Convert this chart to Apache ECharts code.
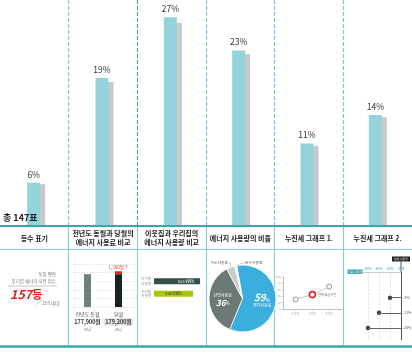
<!DOCTYPE html>
<html><head><meta charset="utf-8">
<script src="https://cdn.jsdelivr.net/npm/echarts@6/dist/echarts.min.js"></script>
<style>html,body{margin:0;padding:0;background:#fff}#c{width:412px;height:354px}</style>
</head><body><div id="c"></div>
<script>
// ---- data ----
const sectionNames = ['등수 표기','전년도 동월과 당월의\n에너지 사용료 비교','이웃집과 우리집의\n에너지 사용량 비교','에너지 사용량의 비율','누진세 그래프 1.','누진세 그래프 2.'];
const shareValues  = [5.5, 19.1, 27.0, 22.7, 10.6, 14.3];
const shadowValues = [5.3, 18.6, 26.3, 22.2, 10.3, 14.0];
const totalVotes = 147;

const rankValue = 157;
const householdCount = 295;
const rankTitle = ['동일 평형', '우리집 에너지 사용 점수'];

const compareLabels = ['전년도 동월', '당월'];
const compareCost   = [177900, 179200];
const compareUsage  = ['28㎥', '28㎥'];

const neighborLabels = ['이웃집\n사용량', '우리집\n사용량'];
const neighborUsage  = [523, 480];

const pieNames  = ['전기사용료', '난방사용료', '수도사용료', '온수사용료'];
const pieValues = [59, 36, 4, 1];

const tierNames  = ['1구간', '2구간', '3구간'];
const tierValues = [30, 45, 70];
const tierCurrent = 1;

const stepTicks   = [-30, -20, -10, 0];
const stepDots    = [-10, -20, -30];
const stepSavings = ['-3%', '-11%', '-25%'];

// ---- styles ----
const FONT = '"Noto Sans CJK KR", "Noto Sans", sans-serif';
const TEAL_BAR = '#93d3d9', SHADOW = '#c5caca', TEAL_LINE = '#33a9b3';
const pieColors = ['#3aaedc', '#6b7876', '#c6cbcb', '#eef1f1'];
const fmt = n => n.toLocaleString('en-US');

const chart = echarts.init(document.getElementById('c'), null, {renderer: 'canvas'});

const pieData = pieNames.map((n, i) => {
  let label;
  if (i === 0) label = {show: true, position: 'inside', formatter: '{p|{c}}{s|%}\n{n|{b}}',
    rich: {p: {fontSize: 10, fontStyle: 'italic', fontWeight: 'bold', color: '#fff', fontFamily: FONT},
           s: {fontSize: 5, color: '#fff', fontFamily: FONT, verticalAlign: 'bottom'},
           n: {fontSize: 4, color: '#fff', fontFamily: FONT, lineHeight: 6}}};
  else if (i === 1) label = {show: true, position: 'inside', formatter: '{n|{b}}\n{p|{c}}{s|%}',
    rich: {p: {fontSize: 8.5, fontStyle: 'italic', fontWeight: 'bold', color: '#fff', fontFamily: FONT},
           s: {fontSize: 4.5, color: '#fff', fontFamily: FONT},
           n: {fontSize: 4, color: '#fff', fontFamily: FONT, lineHeight: 7}}};
  else label = {show: true, position: 'outside', formatter: '{b}', fontSize: 3.8, color: '#555', fontFamily: FONT};
  return {name: n, value: pieValues[i], itemStyle: {color: pieColors[i]}, label,
          labelLine: {show: i >= 2, length: 3, length2: 3, lineStyle: {width: 0.5, color: '#999'}}};
});

const option = {
  animation: false,
  textStyle: {fontFamily: FONT},
  grid: [
    {left: 2, top: 0, width: 412, height: 225},             // 0 main bars
    {left: 0, top: 0, width: 412, height: 225},             // 1 dashed frame
    {left: 0, top: 226, width: 412, height: 120},           // 2 table
    {left: 72, top: 264, width: 62, height: 43},            // 3 cost compare
    {left: 154, top: 275, width: 58.6, height: 25},         // 4 neighbor
    {left: 283, top: 277, width: 58.8, height: 32},         // 5 tier line
    {left: 357, top: 272, width: 44, height: 68}            // 6 step dots
  ],
  xAxis: [
    {gridIndex: 0, type: 'category', data: sectionNames, show: false},
    {gridIndex: 1, type: 'category', data: sectionNames, axisLine: {show: false, onZero: false}, axisTick: {show: false}, axisLabel: {show: false, interval: 0},
     splitLine: {show: true, interval: 0, showMinLine: false, showMaxLine: false,
       lineStyle: {type: [4, 2], width: 1.2, color: ['#72cad1', '#3da6a8', '#72cad1', '#72cad1', '#72cad1']}}},
    {gridIndex: 2, type: 'category', data: sectionNames, position: 'top',
     axisLine: {show: true, onZero: false, lineStyle: {color: TEAL_LINE, width: 2}}, axisTick: {show: false},
     axisLabel: {interval: 0, inside: true, margin: 12, verticalAlign: 'middle', fontSize: 7, fontWeight: 'bold', color: '#222', lineHeight: 9.5, fontFamily: FONT},
     splitLine: {show: true, interval: 0, showMinLine: false, showMaxLine: false, lineStyle: {color: '#86cfd5', width: 1.2}}},
    {gridIndex: 2, type: 'category', data: sectionNames, position: 'bottom',
     axisLine: {show: true, onZero: false, lineStyle: {color: TEAL_LINE, width: 2.5}}, axisTick: {show: false}, axisLabel: {show: false}},
    {gridIndex: 3, type: 'category', data: compareLabels, axisLine: {show: false, onZero: false}, axisTick: {show: false},
     axisLabel: {interval: 0, margin: 3, fontFamily: FONT,
       formatter: (v, i) => `{n|${v}}\n{c${i}|${fmt(compareCost[i])}원}\n{u|${compareUsage[i]}}`,
       rich: {n: {fontSize: 5, color: '#444', lineHeight: 8, fontFamily: FONT},
              c0: {fontSize: 5.5, color: '#333', fontWeight: 'bold', lineHeight: 8, fontFamily: FONT, padding: [1, 2]},
              c1: {fontSize: 5.5, color: '#333', fontWeight: 'bold', lineHeight: 8, fontFamily: FONT, backgroundColor: '#e4e7e7', borderRadius: 3, padding: [1, 2]},
              u: {fontSize: 3.5, color: '#666', lineHeight: 7, fontFamily: FONT}}}},
    {gridIndex: 4, type: 'value', min: 240, max: 600, show: false},
    {gridIndex: 5, type: 'value', min: 0.25, max: 3.75,
     axisLine: {show: true, onZero: false, lineStyle: {color: '#999', width: 0.6}}, axisTick: {show: true, customValues: [1, 2, 3, 3.6], length: 1.5, lineStyle: {color: '#999', width: 0.5}},
     splitLine: {show: false},
     axisLabel: {customValues: [1, 2, 3], fontSize: 3, color: '#999', margin: 3, formatter: v => tierNames[Math.round(v) - 1] || ''}},
    {gridIndex: 6, type: 'value', min: -40, max: 0, interval: 10, position: 'top',
     axisLine: {show: true, onZero: false, lineStyle: {color: '#aaa', width: 0.6}}, axisTick: {show: false},
     axisLabel: {fontSize: 3.5, color: '#2fa8b3', margin: 1.5, fontFamily: FONT,
       formatter: v => v === 0 ? '현재' : (stepTicks.indexOf(v) >= 0 ? Math.abs(v) + '%' : '')},
     splitLine: {show: true, showMinLine: false, showMaxLine: false, lineStyle: {type: [2, 1.5], color: '#cfcfcf', width: 0.6}}}
  ],
  yAxis: [
    {gridIndex: 0, type: 'value', min: 0, max: 29.25, show: false},
    {gridIndex: 1, type: 'value', min: 0, max: 1, show: false},
    {gridIndex: 2, type: 'value', min: 0, max: 1, show: false},
    {gridIndex: 3, type: 'value', min: 163400, max: 182400, interval: 3800,
     axisLine: {show: false}, axisTick: {show: false}, axisLabel: {show: false},
     splitLine: {show: true, lineStyle: {type: [1.5, 1.5], color: '#d3d3d3', width: 0.7}}},
    {gridIndex: 4, type: 'category', data: neighborLabels, inverse: true, axisLine: {show: false}, axisTick: {show: false},
     axisLabel: {interval: 0, fontSize: 3.5, color: '#888', lineHeight: 4.5, margin: 3, fontFamily: FONT}},
    {gridIndex: 5, type: 'value', min: 0, max: 100, interval: 20,
     axisLine: {show: true, onZero: false, lineStyle: {color: '#999', width: 0.6}}, axisTick: {show: true, length: 1.5, lineStyle: {color: '#999', width: 0.5}},
     axisLabel: {fontSize: 2.8, color: '#aaa', margin: 2.5}, splitLine: {show: false}},
    {gridIndex: 6, type: 'value', min: -0.7, max: 3.8, inverse: true, show: false}
  ],
  series: [
    {type: 'bar', xAxisIndex: 0, yAxisIndex: 0, data: shareValues, barWidth: 13, barGap: '-61.5%', z: 3,
     itemStyle: {color: TEAL_BAR},
     label: {show: true, position: 'top', distance: 4, fontSize: 8.5, color: '#333', fontFamily: FONT,
             formatter: p => Math.round(p.value) + '%'}},
    {type: 'bar', xAxisIndex: 0, yAxisIndex: 0, data: shadowValues, barWidth: 13, barGap: '-61.5%', z: 2,
     itemStyle: {color: SHADOW}},

    {type: 'bar', xAxisIndex: 4, yAxisIndex: 3, stack: 'cost', barWidth: 7,
     data: compareCost.map((v, i) => ({value: i === 0 ? v : compareCost[0], itemStyle: {color: i === 0 ? '#6e807c' : '#16231f'}}))},
    {type: 'bar', xAxisIndex: 4, yAxisIndex: 3, stack: 'cost', barWidth: 7,
     data: compareCost.map((v, i) => i === 0 ? '-' : v - compareCost[0]),
     itemStyle: {color: '#e8281e'},
     label: {show: true, position: 'top', distance: 1.5, fontSize: 4.5, color: '#e8401e', fontFamily: FONT,
             formatter: p => fmt(p.value) + '원↑'}},

    {type: 'bar', xAxisIndex: 5, yAxisIndex: 4, barWidth: 6,
     data: neighborUsage.map((v, i) => ({value: v, itemStyle: {color: i === 0 ? '#36504c' : '#a6c80a'},
       label: {show: true, position: i === 0 ? 'insideRight' : 'inside', distance: 6, fontSize: 4.2,
               color: i === 0 ? '#fff' : '#333', fontFamily: FONT, formatter: '{c} kWh'}}))},

    {type: 'pie', center: [242.5, 298.5], radius: 33.5, startAngle: 100, data: pieData,
     itemStyle: {borderColor: '#fff', borderWidth: 0.8},
     labelLayout: p => p.dataIndex === 3 ? {x: 245, y: 263, align: 'left', verticalAlign: 'middle'}
                     : (p.dataIndex === 2 ? {x: 228, y: 263, align: 'right', verticalAlign: 'middle'} : {})},

    {type: 'line', xAxisIndex: 6, yAxisIndex: 5,
     data: tierValues.map((v, i) => ({value: [i + 1, v],
       symbolSize: i === tierCurrent ? 6 : 5,
       itemStyle: i === tierCurrent ? {color: '#fff', borderColor: '#e02020', borderWidth: 1.6} : {color: '#fff', borderColor: '#888', borderWidth: 0.9},
       label: i === tierCurrent ? {show: true, position: 'right', distance: 2, fontSize: 3, color: '#666', formatter: '현재 요금 구간', fontFamily: FONT} : {show: false}})),
     symbol: 'circle', lineStyle: {color: '#aaa', width: 0.7}},

    {type: 'scatter', xAxisIndex: 7, yAxisIndex: 6, symbolSize: 4.5, itemStyle: {color: '#111'},
     data: stepDots.map((x, i) => [x, i + 1]),
     markLine: {silent: true, symbol: 'none', animation: false,
       data: [
         {xAxis: 0, lineStyle: {color: '#555', width: 1, type: 'solid'}, label: {show: false}},
         ...stepDots.map((x, i) => [
           {coord: [x, i + 1], lineStyle: {color: '#666', width: 1, type: 'solid'}},
           {coord: [0, i + 1], label: {show: true, position: 'end', distance: 2, fontSize: 3.5, color: '#555', formatter: stepSavings[i]}}
         ])
       ]}}
  ],
  graphic: [
    {type: 'text', z: 100, x: 3, y: 217.5, style: {text: `총 ${totalVotes}표`, fontSize: 9, fontWeight: 'bold', fontFamily: FONT, fill: '#222', verticalAlign: 'middle'}},
    {type: 'line', shape: {x1: 0, y1: 249.5, x2: 412, y2: 249.5}, style: {stroke: '#8fd3d8', lineWidth: 1}},
    // rank cell
    {type: 'text', x: 56, y: 274, style: {text: rankTitle[0], fontSize: 4.5, fontFamily: FONT, fill: '#777', align: 'right', verticalAlign: 'middle'}},
    {type: 'text', x: 56, y: 281, style: {text: rankTitle[1], fontSize: 4.5, fontFamily: FONT, fill: '#777', align: 'right', verticalAlign: 'middle'}},
    {type: 'line', shape: {x1: 8, y1: 286, x2: 57, y2: 286}, style: {stroke: '#aaa', lineWidth: 0.7}},
    {type: 'text', x: 10, y: 294.5, style: {text: `{a|${rankValue}}{b|등}`, fontFamily: FONT, verticalAlign: 'middle',
      rich: {a: {fontSize: 12.5, fontWeight: 'bold', fontStyle: 'italic', fill: '#e0201b', fontFamily: FONT},
             b: {fontSize: 11, fontWeight: 'bold', fill: '#e0201b', fontFamily: FONT}}}},
    {type: 'line', shape: {x1: 36.5, y1: 304.5, x2: 42.5, y2: 299.5}, style: {stroke: '#999', lineWidth: 0.6}},
    {type: 'text', x: 42, y: 303, style: {text: `${householdCount}세대`, fontSize: 5, fontFamily: FONT, fill: '#888', verticalAlign: 'middle'}},
    // step cell decorations
    {type: 'rect', shape: {x: 347.5, y: 269.5, width: 15, height: 4.5}, style: {fill: '#2fa8b3'}},
    {type: 'text', x: 355, y: 271.8, style: {text: '기준 사용량', fontSize: 2.8, fontFamily: FONT, fill: '#fff', align: 'center', verticalAlign: 'middle'}},
    {type: 'rect', shape: {x: 392, y: 256.5, width: 18, height: 5}, style: {fill: '#222'}},
    {type: 'text', x: 401, y: 259, style: {text: '현재 사용량', fontSize: 2.8, fontFamily: FONT, fill: '#fff', align: 'center', verticalAlign: 'middle'}},
    {type: 'line', shape: {x1: 401, y1: 261.5, x2: 401, y2: 272}, style: {stroke: '#555', lineWidth: 1}}
  ]
};
chart.setOption(option);
</script></body></html>
